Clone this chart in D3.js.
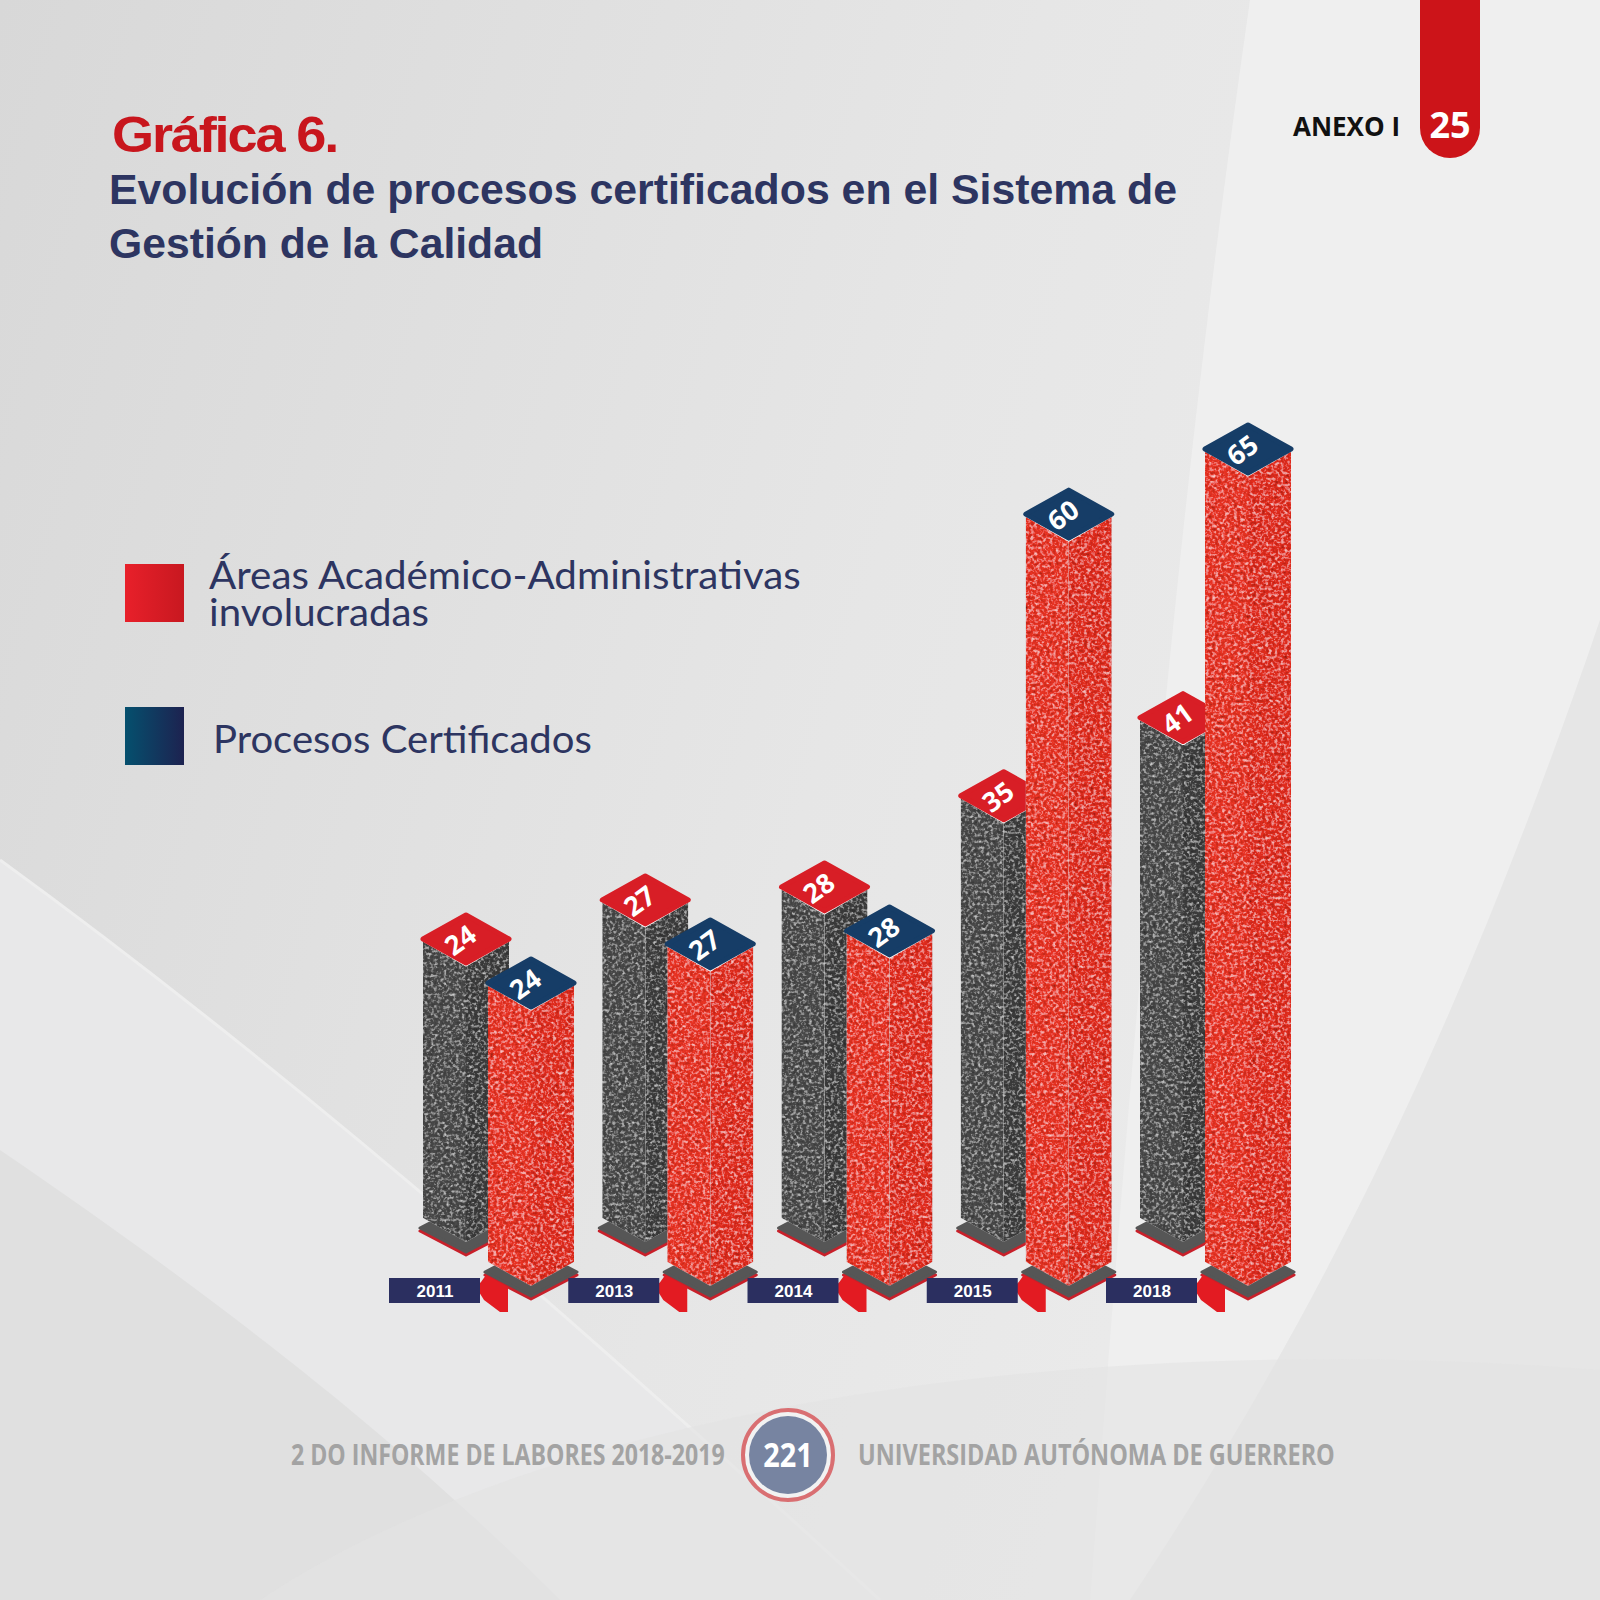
<!DOCTYPE html>
<html>
<head>
<meta charset="utf-8">
<script src="https://cdn.jsdelivr.net/npm/d3@7"></script>
<style>
  html, body { margin: 0; padding: 0; background: #e3e3e3; }
  svg { display: block; }
</style>
</head>
<body>
<div id="chart"></div>
<script>
// Data
const years = ['2011', '2013', '2014', '2015', '2018'];
const areasValues = [24, 27, 28, 35, 41];      // gray bar, red cap
const procesosValues = [24, 27, 28, 60, 65];   // red bar, navy cap
const legendLabels = [
    ['Áreas Académico-Administrativas', 'involucradas'],
    ['Procesos Certificados']
];

const W = 1600, H = 1600;
const svg = d3.select('#chart').append('svg')
    .attr('width', W)
    .attr('height', H);

// squeeze a left-anchored text horizontally so it spans the given width
function fitWidth(sel, x, y, width) {
    const natural = sel.node().getComputedTextLength();
    const k = width / natural;
    sel.attr('x', 0).attr('y', 0)
        .attr('transform', `translate(${x},${y}) scale(${k},1)`);
    return sel;
}

const defs = svg.append('defs');

// background gradient
const bg = defs.append('linearGradient').attr('id', 'bgGrad')
    .attr('x1', 0).attr('y1', 0).attr('x2', 1).attr('y2', 0.3);
bg.append('stop').attr('offset', 0).attr('stop-color', '#d8d8d8');
bg.append('stop').attr('offset', 0.6).attr('stop-color', '#e6e6e6');
bg.append('stop').attr('offset', 1).attr('stop-color', '#ececec');

const legRed = defs.append('linearGradient').attr('id', 'legRed');
legRed.append('stop').attr('offset', 0).attr('stop-color', '#e8202a');
legRed.append('stop').attr('offset', 1).attr('stop-color', '#c81820');
const legBlue = defs.append('linearGradient').attr('id', 'legBlue');
legBlue.append('stop').attr('offset', 0).attr('stop-color', '#05506e');
legBlue.append('stop').attr('offset', 1).attr('stop-color', '#1d2250');

// grainy texture for the columns
const grain = defs.append('filter').attr('id', 'grain')
    .attr('x', 0).attr('y', 0).attr('width', 1).attr('height', 1);
grain.append('feTurbulence')
    .attr('type', 'fractalNoise')
    .attr('baseFrequency', 0.32)
    .attr('numOctaves', 2)
    .attr('seed', 4)
    .attr('result', 'noise');
grain.append('feColorMatrix')
    .attr('in', 'noise')
    .attr('type', 'matrix')
    .attr('values', '0.36 0.36 0.36 0 -0.04  0.36 0.36 0.36 0 -0.04  0.36 0.36 0.36 0 -0.04  0 0 0 0 1')
    .attr('result', 'gray');
grain.append('feBlend')
    .attr('in', 'SourceGraphic')
    .attr('in2', 'gray')
    .attr('mode', 'overlay')
    .attr('result', 'blend');
grain.append('feComposite')
    .attr('in', 'blend')
    .attr('in2', 'SourceGraphic')
    .attr('operator', 'in');

// ---------- background ----------
svg.append('rect').attr('width', W).attr('height', H).attr('fill', 'url(#bgGrad)');
svg.append('path')
    .attr('d', 'M1250,0 C1190,420 1150,800 1090,1600 L1600,1600 L1600,0 Z')
    .attr('fill', '#efefef');
svg.append('path')
    .attr('d', 'M0,860 C330,1100 640,1380 880,1600 L0,1600 Z')
    .attr('fill', '#e8e8e9');
svg.append('path')
    .attr('d', 'M0,860 C330,1100 640,1380 880,1600')
    .attr('fill', 'none').attr('stroke', '#eeeeee').attr('stroke-width', 3);
svg.append('path')
    .attr('d', 'M0,1150 C250,1320 420,1460 560,1600 L0,1600 Z')
    .attr('fill', '#e0e0e0');
svg.append('path')
    .attr('d', 'M1600,620 C1470,1000 1330,1300 1130,1600 L1600,1600 Z')
    .attr('fill', '#e6e6e6');
svg.append('path')
    .attr('d', 'M260,1600 C560,1400 1100,1330 1600,1370 L1600,1600 Z')
    .attr('fill', '#e2e2e2').attr('opacity', 0.6);

// ---------- header ----------
svg.append('text')
    .attr('x', 112).attr('y', 152)
    .attr('font-family', '"Liberation Sans", Arial, sans-serif')
    .attr('font-weight', 'bold')
    .attr('font-size', 50)
    .attr('letter-spacing', -2)
    .attr('fill', '#c8161d')
    .attr('textLength', 225)
    .attr('lengthAdjust', 'spacingAndGlyphs')
    .text('Gráfica 6.');

const titleLines = [
    { text: 'Evolución de procesos certificados en el Sistema de', y: 204, w: 1068 },
    { text: 'Gestión de la Calidad', y: 258, w: 434 }
];
svg.selectAll('.title-line')
    .data(titleLines)
    .enter()
    .append('text')
    .attr('class', 'title-line')
    .attr('x', 109)
    .attr('y', d => d.y)
    .attr('font-family', '"Liberation Sans", Arial, sans-serif')
    .attr('font-weight', 'bold')
    .attr('font-size', 43)
    .attr('fill', '#2d3561')
    .attr('textLength', d => d.w)
    .attr('lengthAdjust', 'spacingAndGlyphs')
    .text(d => d.text);

// page tab
svg.append('path')
    .attr('d', 'M1420,0 L1480,0 L1480,128 A30,30 0 0 1 1420,128 Z')
    .attr('fill', '#cc1419');
svg.append('text')
    .attr('x', 1450).attr('y', 138)
    .attr('text-anchor', 'middle')
    .attr('font-family', '"Open Sans", sans-serif')
    .attr('font-weight', 'bold')
    .attr('font-size', 36)
    .attr('fill', '#fff')
    .text('25');
svg.append('text')
    .attr('x', 1400).attr('y', 136)
    .attr('text-anchor', 'end')
    .attr('font-family', '"Open Sans", sans-serif')
    .attr('font-weight', 'bold')
    .attr('font-size', 26)
    .attr('fill', '#111')
    .text('ANEXO I');

// ---------- legend ----------
const legend = svg.append('g').attr('class', 'legend');
const legendRows = [
    { fill: 'url(#legRed)', y: 564, lines: legendLabels[0], tx: 209, ty: 589, w: [592, 220] },
    { fill: 'url(#legBlue)', y: 707, lines: legendLabels[1], tx: 213, ty: 753, w: [379] }
];
legendRows.forEach(row => {
    legend.append('rect')
        .attr('x', 125).attr('y', row.y)
        .attr('width', 59).attr('height', 58)
        .attr('fill', row.fill);
    row.lines.forEach((line, i) => {
        const t = legend.append('text')
            .attr('font-family', 'Lato, sans-serif')
            .attr('font-size', 39)
            .attr('fill', '#2d3561')
            .text(line);
        fitWidth(t, row.tx, row.ty + i * 37, row.w[i]);
    });
});

// ---------- columns ----------
const x = d3.scalePoint().domain(years).range([423, 1140]);
const height = d3.scaleLinear().domain([24, 65]).range([279, 813]);

const halfW = 43;      // half width of a column
const rise = 24;       // isometric rise of the top rhombus

const series = [
    { values: areasValues, dx: 0, base: 1218, left: '#4a4a4a', right: '#3e3e3e', cap: '#d81e26' },
    { values: procesosValues, dx: 65, base: 1262, left: '#ea3322', right: '#e42d1e', cap: '#163d67' }
];

const line = d3.line().curve(d3.curveLinearClosed);
const open = d3.line();

const chart = svg.append('g').attr('class', 'columns');

years.forEach((year, i) => {
    series.forEach(s => {
        const x0 = x(year) + s.dx;
        const B = s.base;
        const T = B - height(s.values[i]);
        const g = chart.append('g').attr('class', 'column');

        // base plate
        const plate = [[x0 - 3, B + 10], [x0 + halfW, B - 14], [x0 + 2 * halfW + 3, B + 10], [x0 + halfW, B + 34]];
        g.append('path')
            .attr('d', line(plate.map(p => [p[0], p[1] + 3])))
            .attr('fill', '#c8202a')
            .attr('stroke', '#c8202a').attr('stroke-width', 3).attr('stroke-linejoin', 'round');
        g.append('path')
            .attr('d', line(plate))
            .attr('fill', '#565656')
            .attr('stroke', '#565656').attr('stroke-width', 3).attr('stroke-linejoin', 'round');

        // column faces
        const body = g.append('g').attr('filter', 'url(#grain)');
        body.append('path')
            .attr('d', line([[x0, T], [x0 + halfW, T + rise], [x0 + halfW, B + rise], [x0, B]]))
            .attr('fill', s.left);
        body.append('path')
            .attr('d', line([[x0 + halfW, T + rise], [x0 + 2 * halfW, T], [x0 + 2 * halfW, B], [x0 + halfW, B + rise]]))
            .attr('fill', s.right);

        // cap with white rim
        g.append('path')
            .attr('d', open([[x0, T + 1], [x0 + halfW, T + rise + 2], [x0 + 2 * halfW, T + 1]]))
            .attr('fill', 'none')
            .attr('stroke', '#ffffff').attr('stroke-width', 3).attr('stroke-linejoin', 'round');
        g.append('path')
            .attr('d', line([[x0, T], [x0 + halfW, T - rise], [x0 + 2 * halfW, T], [x0 + halfW, T + rise]]))
            .attr('fill', s.cap)
            .attr('stroke', s.cap).attr('stroke-width', 5).attr('stroke-linejoin', 'round');
        g.append('text')
            .attr('transform', `translate(${x0 + halfW},${T + 9}) rotate(-36)`)
            .attr('text-anchor', 'middle')
            .attr('font-family', '"Open Sans", sans-serif')
            .attr('font-weight', 'bold')
            .attr('font-size', 27)
            .attr('fill', '#fff')
            .text(s.values[i]);
    });
});

// ---------- year labels ----------
const labels = svg.append('g').attr('class', 'year-labels');
years.forEach(year => {
    const lx = x(year) - 34;
    const R = lx + 91;
    const ly = 1278;
    labels.append('path')
        .attr('d', line([[R - 5, ly + 10], [R + 1, ly + 4], [R + 6, ly - 3], [R + 28, ly + 9],
            [R + 28, ly + 34], [R + 20, ly + 34], [R + 4, ly + 22], [R - 1, ly + 14]]))
        .attr('fill', '#e31b22');
    labels.append('rect')
        .attr('x', lx).attr('y', ly)
        .attr('width', 91).attr('height', 25)
        .attr('fill', '#2b2f60');
    labels.append('text')
        .attr('x', lx + 46).attr('y', ly + 19)
        .attr('text-anchor', 'middle')
        .attr('font-family', '"Liberation Sans", Arial, sans-serif')
        .attr('font-weight', 'bold')
        .attr('font-size', 17)
        .attr('fill', '#fff')
        .text(year);
});

// ---------- footer ----------
const footerLeft = svg.append('text')
    .attr('font-family', '"Open Sans", sans-serif')
    .attr('font-weight', 'bold')
    .attr('font-size', 29)
    .attr('fill', '#a3a3a3')
    .text('2 DO INFORME DE LABORES 2018-2019');
fitWidth(footerLeft, 291, 1465, 434);
const footerRight = svg.append('text')
    .attr('font-family', '"Open Sans", sans-serif')
    .attr('font-weight', 'bold')
    .attr('font-size', 29)
    .attr('fill', '#a3a3a3')
    .text('UNIVERSIDAD AUTÓNOMA DE GUERRERO');
fitWidth(footerRight, 858, 1465, 477);

svg.append('circle')
    .attr('cx', 788).attr('cy', 1455).attr('r', 45)
    .attr('fill', '#f2f2f2')
    .attr('stroke', '#d96f72').attr('stroke-width', 4);
svg.append('circle')
    .attr('cx', 788).attr('cy', 1455).attr('r', 39)
    .attr('fill', '#7784a1');
const pageNum = svg.append('text')
    .attr('text-anchor', 'middle')
    .attr('font-family', '"Open Sans", sans-serif')
    .attr('font-weight', 'bold')
    .attr('font-size', 34)
    .attr('fill', '#fff')
    .attr('transform', 'translate(788,1467) scale(0.85,1)')
    .text('221');
</script>
</body>
</html>
